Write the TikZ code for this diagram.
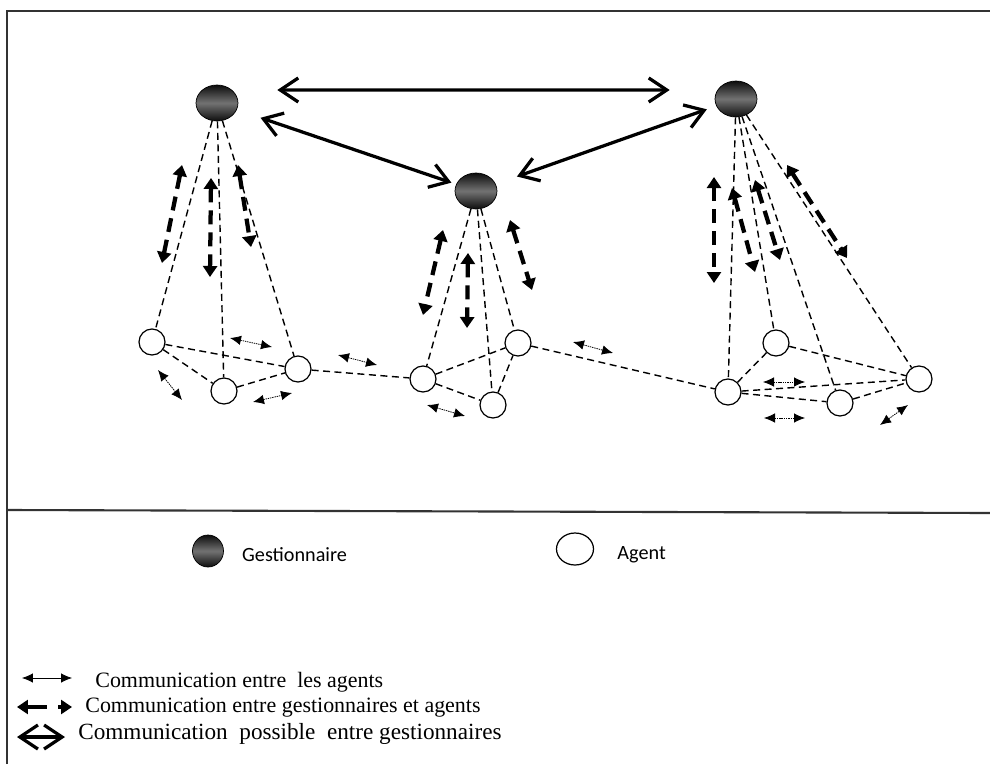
\documentclass[tikz,border=0pt]{standalone}
\usepackage{fontspec}
\setmainfont{Liberation Serif}
\newfontfamily\calibri{Carlito}
\usetikzlibrary{positioning,shapes.geometric,arrows.meta}

\begin{document}
\begin{tikzpicture}[x=0.02cm,y=-0.02cm,
      gest/.style={ellipse,draw=black,line width=0.4pt,minimum width=8.4mm,minimum height=7.2mm,inner sep=0pt,
        top color=black!95,bottom color=black!95,middle color=black!55},
      agent/.style={circle,draw,line width=0.7pt,fill=white,minimum size=5.2mm,inner sep=0pt},
      link/.style={dash pattern=on 1.4mm off 0.9mm,line width=0.8pt},
      gg/.style={<->,>={Straight Barb[length=3.6mm,width=4.8mm]},line width=0.65mm},
      ga/.style={<->,>={Triangle[length=2.2mm,width=2.8mm]},line width=0.85mm,dash pattern=on 2.8mm off 1.6mm},
      aa/.style={<->,>={Latex[length=2.2mm,width=1.9mm]},line width=0.45pt,dash pattern=on 0.8pt off 0.5pt},
      frame/.style={line width=1.2pt,black!80},
      txt/.style={anchor=west,inner sep=0pt}]
      \useasboundingbox (0,0) rectangle (990,764);
      % frame and divider
      \draw[frame] (7,764) -- (7,11) -- (990,11);
      \draw[frame] (7,510) -- (990,513);

      % gestionnaires
      \node[gest] (G1) at (217,103) {};
      \node[gest] (G2) at (476,191) {};
      \node[gest] (G3) at (736,99) {};

      % agents
      \node[agent] (A1) at (152,342) {};
      \node[agent] (A2) at (224,391) {};
      \node[agent] (A3) at (298,369) {};
      \node[agent] (B1) at (423,379) {};
      \node[agent] (B2) at (493,405) {};
      \node[agent] (B3) at (518,343) {};
      \node[agent] (C1) at (728,392) {};
      \node[agent] (C2) at (776,343) {};
      \node[agent] (C3) at (840,403) {};
      \node[agent] (C4) at (919,379) {};

      % gestionnaire -- agent links
      \foreach \g/\a in {G1/A1,G1/A2,G1/A3,G2/B1,G2/B2,G2/B3,G3/C1,G3/C2,G3/C3,G3/C4}
        \draw[link] (\g) -- (\a);
      % agent -- agent links
      \foreach \a/\b in {A1/A3,A1/A2,A2/A3,A3/B1,B1/B3,B1/B2,B2/B3,B3/C1,C1/C2,C1/C4,C1/C3,C2/C4,C3/C4}
        \draw[link] (\a) -- (\b);

      % between gestionnaires
      \draw[gg,shorten <=7.8mm,shorten >=9mm] ([yshift=2.6mm]G1.east) -- ([yshift=1.8mm]G3.west);
      \draw[gg,shorten <=5mm,shorten >=1mm] (G1) -- (G2);
      \draw[gg,shorten <=2mm,shorten >=4.5mm] (G3) -- (G2);

      % gestionnaires <-> agents
      \foreach \xa/\ya/\xb/\yb in {182/165/162/263,211/178/210/277,238/165/251/247,
          443/230/423/315,468/253/467/328,510/220/532/290,
          714/177/714/283,732/188/755/272,755/180/780/260,787/165/847/258}
        \draw[ga] (\xa,\ya) -- (\xb,\yb);

      % agents <-> agents
      \foreach \xa/\ya/\xb/\yb in {230/338/272/347,158/370/182/400,253/402/292/393,338/355/377/365,
          427/405/465/416,573/342/613/353,
          763/382/805/382,764/418/805/418,880/425/908/405}
        \draw[aa] (\xa,\ya) -- (\xb,\yb);

      % legend
      \node[gest,minimum width=6.2mm,minimum height=6.4mm] (legG) at (208,551) {};
      \node[txt,right=3.6mm of legG,yshift=-0.8mm,font=\calibri\fontsize{11.5}{13}\selectfont] (legGtxt) {Gestionnaire};
      \node[ellipse,draw,line width=0.7pt,minimum width=7.4mm,minimum height=6.4mm,inner sep=0pt] (legA) at (575,549) {};
      \node[txt,right=4.6mm of legA,yshift=-1.2mm,font=\calibri\fontsize{11.5}{13}\selectfont] (legAtxt) {Agent};

      \coordinate (l1a) at (22,678);  \coordinate (l1b) at (72,678);
      \coordinate (l2a) at (17,707);  \coordinate (l2b) at (72,707);
      \coordinate (l3a) at (17,737);  \coordinate (l3b) at (65,737);
      \draw[aa,dash pattern=] (l1a) -- (l1b);
      \draw[ga,dash pattern=on 4mm off 2.2mm] (l2a) -- (l2b);
      \draw[gg] (l3a) -- (l3b);
      \node[txt,font=\fontsize{12.5}{14}\selectfont] (leg1) at (95,682) {Communication entre\ \ les agents};
      \node[txt,font=\fontsize{12.5}{14}\selectfont] (leg2) at (85,708) {Communication entre gestionnaires et agents};
      \node[txt,font=\fontsize{13.2}{15}\selectfont] (leg3) at (78,734) {Communication\ \ possible\ \ entre gestionnaires};
    \end{tikzpicture}
\end{document}
